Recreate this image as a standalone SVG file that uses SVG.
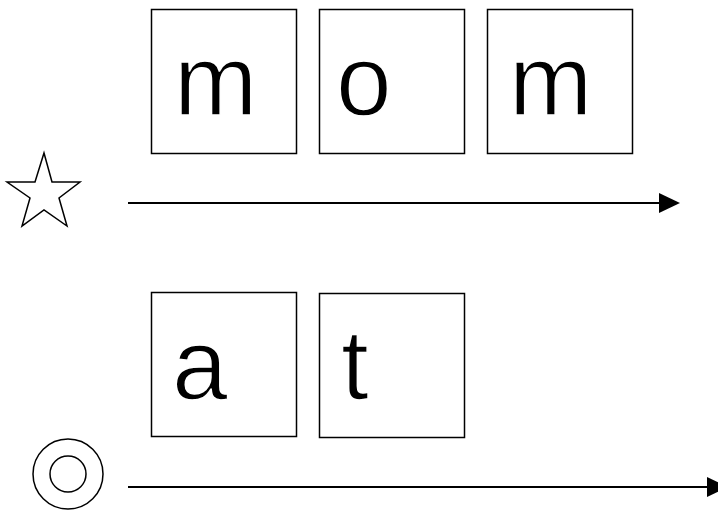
<svg xmlns="http://www.w3.org/2000/svg" width="718" height="512" viewBox="0 0 718 512">
<style>
.box{fill:#fff;stroke:#000;stroke-width:1.5}
.lt{font-family:"Liberation Sans",Arial,sans-serif;font-size:100px;fill:#000;stroke:#fff;stroke-width:1.5;paint-order:normal}
.ln{stroke:#000;stroke-width:2;fill:none}
.sym{fill:#fff;stroke:#000;stroke-width:1.5}
</style>
<rect width="718" height="512" fill="#fff"/>
<g id="letter-m1"><rect class="box" x="151.5" y="9.5" width="145" height="144"/><text class="lt" x="174" y="115">m</text></g>
<g id="letter-o"><rect class="box" x="319.5" y="9.5" width="145" height="144"/><text class="lt" x="336" y="115">o</text></g>
<g id="letter-m2"><rect class="box" x="487.5" y="9.5" width="145" height="144"/><text class="lt" x="509" y="115">m</text></g>
<g id="letter-a"><rect class="box" x="151.5" y="292.5" width="145" height="144"/><text class="lt" x="172" y="399">a</text></g>
<g id="letter-t"><rect class="box" x="319.5" y="293.5" width="145" height="144"/><text class="lt" x="341" y="399">t</text></g>
<g id="star"><polygon class="sym" points="44,153 52,182 80,182 59,198 67,226 44,210 22,226 30,198 7,182 35,182"/></g>
<g id="circle"><circle class="sym" cx="68" cy="474" r="35"/><circle class="sym" cx="68" cy="474" r="18"/></g>
<g id="connectors">
<line class="ln" x1="128" y1="203" x2="660" y2="203"/>
<path d="M659,193 L680,203 L659,213 Z" fill="#000"/>
<line class="ln" x1="128" y1="487" x2="708" y2="487"/>
<path d="M707,477 L728,487 L707,497 Z" fill="#000"/>
</g>
</svg>
